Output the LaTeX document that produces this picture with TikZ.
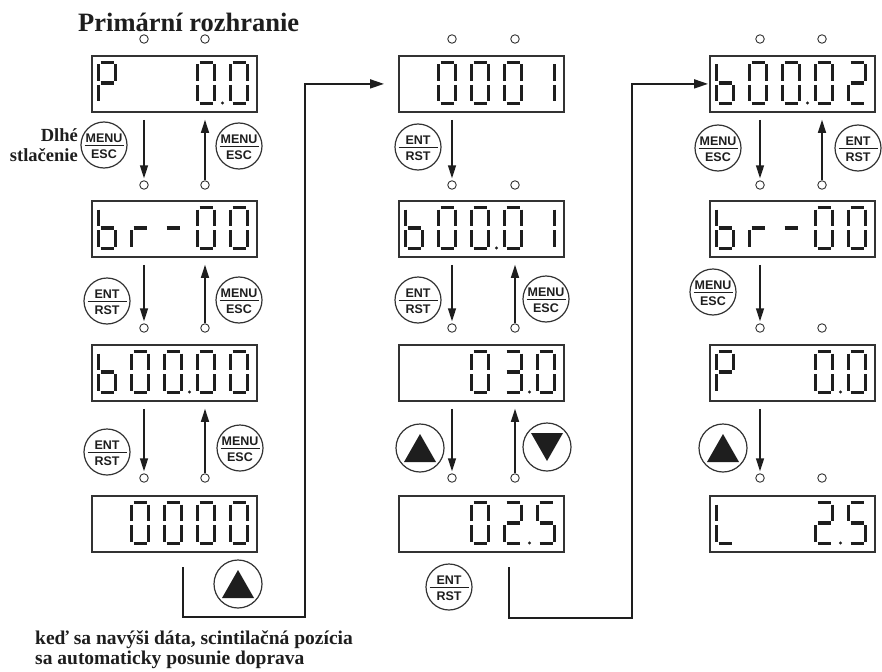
\documentclass[tikz,border=0pt]{standalone}
\usepackage{fontspec}
\setmainfont{Liberation Serif}
\newfontfamily\btnfont{Liberation Sans}
\usetikzlibrary{arrows.meta,calc}
\definecolor{dk}{HTML}{333333}
\definecolor{sg}{HTML}{1E1E1E}
% seven-segment pieces (digit local coords, 1 unit = 1px, y down)
\def\sga{\draw[seg] (3.5,1.5)--(16.5,1.5);}
\def\sgb{\draw[seg] (18.5,3.5)--(18.5,20);}
\def\sgc{\draw[seg] (18.5,24)--(18.5,40.5);}
\def\sgd{\draw[seg] (3.5,42.5)--(16.5,42.5);}
\def\sge{\draw[seg] (1.5,24)--(1.5,40.5);}
\def\sgf{\draw[seg] (1.5,3.5)--(1.5,20);}
\def\sgg{\draw[seg] (3.5,22)--(16.5,22);}
\def\sgp{\fill[sg] (26.5,42) circle (1.7);}
\def\sgz{}
\def\dgZ{a,b,c,d,e,f}
\def\dgZp{a,b,c,d,e,f,p}
\def\dgO{b,c}
\def\dgTw{a,b,g,e,d}
\def\dgTwp{a,b,g,e,d,p}
\def\dgThp{a,b,g,c,d,p}
\def\dgF{a,f,g,c,d}
\def\dgP{a,b,e,f,g}
\def\dgB{f,e,d,c,g}
\def\dgR{e,g}
\def\dgM{g}
\def\dgL{f,e,d}
\def\dgN{z}
\newcommand\dig[3]{\begin{scope}[shift={(#1,#2)}]\foreach \s in #3 {\csname sg\s\endcsname}\end{scope}}
\newcommand\lcd[8]{%
  \node[disp] (#1) at (#2,#3) {};
  \dig{#2+6}{#3+6}{#4}\dig{#2+39}{#3+6}{#5}\dig{#2+72}{#3+6}{#6}%
  \dig{#2+105}{#3+6}{#7}\dig{#2+138}{#3+6}{#8}}
\newcommand\tbtn[5]{%
  \node[btn] (#1) at (#2,#3) {};
  \node[btxt] (#1t) at ($(#1.center)+(0,-6.5)$) {#4};
  \draw[line width=1.1pt,sg] ($(#1.center)+(-19.5,0.8)$) -- ($(#1.center)+(19.5,0.8)$);
  \node[btxt] (#1b) at ($(#1.center)+(0,9)$) {#5};}
\newcommand\trib[4]{%
  \node[btn,minimum size=48pt] (#1) at (#2,#3) {};
  \fill[sg] ($(#1.center)+(0,{-14*(#4)})$) -- ($(#1.center)+(-16,{14*(#4)})$) -- ($(#1.center)+(16,{14*(#4)})$) -- cycle;}
\begin{document}
\begin{tikzpicture}[x=1pt,y=-1pt,
  disp/.style={rectangle,draw=dk,line width=1.8pt,minimum width=165pt,minimum height=56pt,inner sep=0pt,anchor=north west},
  led/.style={circle,draw=dk,line width=0.9pt,minimum size=8.5pt,inner sep=0pt},
  btn/.style={circle,draw=dk,line width=1.2pt,minimum size=46pt,inner sep=0pt},
  btxt/.style={font=\btnfont\bfseries\fontsize{12.5}{12.5}\selectfont,inner sep=0pt,text=sg},
  seg/.style={line width=3.3pt,draw=sg},
  arr/.style={line width=1.4pt,draw=sg,-{Triangle[length=13pt,width=8pt]}},
  conn/.style={line width=1.8pt,draw=sg,-{Triangle[length=14pt,width=9pt]}},
  lbl/.style={font=\bfseries\fontsize{19.5}{20}\selectfont,inner sep=0pt,text=sg}]
\fill[white] (0,0) rectangle (882,671);
\useasboundingbox (0,0) rectangle (882,671);
% texts
\node[anchor=base west,font=\bfseries\fontsize{26.5}{28}\selectfont,inner sep=0pt,text=sg] (title) at (78,32) {Primární rozhranie};
\node[lbl,anchor=east,align=right,font=\bfseries\fontsize{18.5}{20}\selectfont] (dl) at (78,145) {Dlhé\\stlačenie};
\node[lbl,anchor=base west,font=\bfseries\fontsize{19.5}{20}\selectfont] (nt1) at (35,644) {keď sa navýši dáta, scintilačná pozícia};
\node[lbl,anchor=base west,font=\bfseries\fontsize{19.5}{20}\selectfont] (nt2) at (35,664) {sa automaticky posunie doprava};
% displays
\lcd{c1r1}{91}{55}{\dgP}{\dgN}{\dgN}{\dgZp}{\dgZ}
\lcd{c1r2}{91}{200}{\dgB}{\dgR}{\dgM}{\dgZ}{\dgZ}
\lcd{c1r3}{91}{344}{\dgB}{\dgZ}{\dgZp}{\dgZ}{\dgZ}
\lcd{c1r4}{91}{495}{\dgN}{\dgZ}{\dgZ}{\dgZ}{\dgZ}
\lcd{c2r1}{398}{55}{\dgN}{\dgZ}{\dgZ}{\dgZ}{\dgO}
\lcd{c2r2}{398}{200}{\dgB}{\dgZ}{\dgZp}{\dgZ}{\dgO}
\lcd{c2r3}{398}{344}{\dgN}{\dgN}{\dgZ}{\dgThp}{\dgZ}
\lcd{c2r4}{398}{495}{\dgN}{\dgN}{\dgZ}{\dgTwp}{\dgF}
\lcd{c3r1}{709}{55}{\dgB}{\dgZ}{\dgZp}{\dgZ}{\dgTw}
\lcd{c3r2}{709}{200}{\dgB}{\dgR}{\dgM}{\dgZ}{\dgZ}
\lcd{c3r3}{709}{344}{\dgP}{\dgN}{\dgN}{\dgZp}{\dgZ}
\lcd{c3r4}{709}{495}{\dgL}{\dgN}{\dgN}{\dgTwp}{\dgF}
% LEDs
\node[led] (c1r1a) at (144,39) {}; \node[led] (c1r1b) at (205,39) {};
\node[led] (c1r2a) at (144,185) {}; \node[led] (c1r2b) at (205,185) {};
\node[led] (c1r3a) at (144,328) {}; \node[led] (c1r3b) at (205,328) {};
\node[led] (c1r4a) at (144,478) {}; \node[led] (c1r4b) at (205,478) {};
\node[led] (c2r1a) at (452,39) {}; \node[led] (c2r1b) at (515,39) {};
\node[led] (c2r2a) at (452,185) {}; \node[led] (c2r2b) at (515,185) {};
\node[led] (c2r3a) at (452,328) {}; \node[led] (c2r3b) at (515,328) {};
\node[led] (c2r4a) at (452,478) {}; \node[led] (c2r4b) at (515,478) {};
\node[led] (c3r1a) at (760,39) {}; \node[led] (c3r1b) at (822,39) {};
\node[led] (c3r2a) at (760,185) {}; \node[led] (c3r2b) at (822,185) {};
\node[led] (c3r3a) at (760,328) {}; \node[led] (c3r3b) at (822,328) {};
\node[led] (c3r4a) at (760,478) {}; \node[led] (c3r4b) at (822,478) {};
% vertical arrows
\foreach \c/\u/\l in {c1/r1/r2,c1/r2/r3,c1/r3/r4,c2/r1/r2,c2/r2/r3,c2/r3/r4,c3/r1/r2,c3/r2/r3,c3/r3/r4}
  \draw[arr,shorten <=7pt,shorten >=2pt] (\c\u.south -| \c\l a) -- (\c\l a.north);
\foreach \c/\u/\l in {c1/r1/r2,c1/r2/r3,c1/r3/r4,c2/r2/r3,c2/r3/r4,c3/r1/r2}
  \draw[arr,shorten <=0.5pt,shorten >=7pt] (\c\l b.north) -- (\c\u.south -| \c\l b);
% buttons
\tbtn{b1}{104}{145}{MENU}{ESC}
\tbtn{b2}{239}{146}{MENU}{ESC}
\tbtn{b3}{107}{301}{ENT}{RST}
\tbtn{b4}{239}{300}{MENU}{ESC}
\tbtn{b5}{107}{452}{ENT}{RST}
\tbtn{b6}{240}{448}{MENU}{ESC}
\trib{b7}{238}{584}{1}
\tbtn{b8}{418}{147}{ENT}{RST}
\tbtn{b9}{418}{300}{ENT}{RST}
\tbtn{b10}{546}{299}{MENU}{ESC}
\trib{b11}{420}{448}{1}
\trib{b12}{547}{447}{-1}
\tbtn{b13}{449}{587}{ENT}{RST}
\tbtn{b14}{718}{148}{MENU}{ESC}
\tbtn{b15}{858}{148}{ENT}{RST}
\tbtn{b16}{713}{292}{MENU}{ESC}
\trib{b17}{723}{448}{1}
% connectors
\coordinate (k1) at (183,567);
\coordinate (k2) at (305,617);
\coordinate (k3) at (509,567);
\coordinate (k4) at (632,618);
\draw[conn,shorten >=14pt] (k1) |- (k2) |- (c2r1.west);
\draw[conn,shorten >=1pt] (k3) |- (k4) |- (c3r1.west);
\end{tikzpicture}
\end{document}
